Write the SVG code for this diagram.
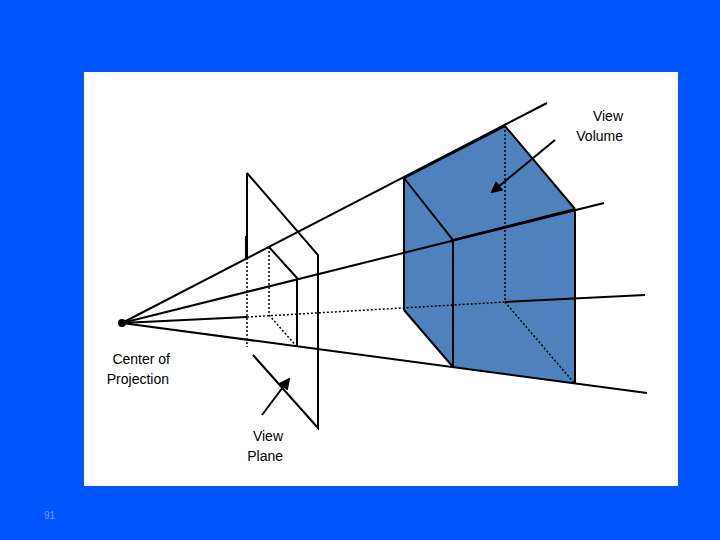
<svg xmlns="http://www.w3.org/2000/svg" width="720" height="540" viewBox="0 0 720 540">
<style>
.s{stroke:#000;stroke-width:2;fill:none}
.d{stroke:#000;stroke-width:1.5;fill:none;stroke-dasharray:2 2}
.t{font-family:"Liberation Sans",Arial,sans-serif;font-size:14px;fill:#000}
</style>
<defs><marker id="a" markerWidth="6" markerHeight="6" refX="5" refY="3" orient="auto"><path d="M0,0L6,3L0,6z" fill="#000"/></marker></defs>
<rect width="720" height="540" fill="#0055ff"/>
<rect x="84" y="72" width="594" height="414" fill="#fff"/>
<g id="viewVolume">
<polygon points="404,178 505,126 575,209 575,384 453,367 404,310" fill="#4f81bd"/>
<path class="s" d="M404,178L505,126L575,209M404,178L453,240L575,209M404,178V310M453,240V367M575,209V384M404,310L453,367"/>
<path class="d" d="M505,126V302L575,384"/>
</g>
<g id="viewPlane">
<path class="s" d="M247,173L318,255V428L253,355M247,173V258M246,236V258"/>
<path class="d" d="M247,258V347"/>
<path class="s" d="M269,247L297,278V347"/>
<path class="d" d="M269,247V315L297,347"/>
</g>
<g id="connectors">
<path class="s" d="M122,323L547,103"/>
<path class="s" d="M122,323L604,203"/>
<path class="s" d="M122,323L247,317"/>
<path class="d" d="M247,317L505,302"/>
<path class="s" d="M505,302L645,295"/>
<path class="s" d="M122,323L647,393"/>
<path class="s" stroke-width="1.5" d="M555,140L492,192" marker-end="url(#a)"/>
<path class="s" stroke-width="1.5" d="M262,415L289,379" marker-end="url(#a)"/>
</g>
<g id="cop"><circle cx="122" cy="323" r="4" fill="#000"/></g>
<text class="t" x="623" y="121" text-anchor="end">View</text>
<text class="t" x="623" y="141" text-anchor="end">Volume</text>
<text class="t" x="170" y="364" text-anchor="end">Center of</text>
<text class="t" x="169" y="384" text-anchor="end">Projection</text>
<text class="t" x="283" y="441" text-anchor="end">View</text>
<text class="t" x="283" y="461" text-anchor="end">Plane</text>
<text x="44" y="519" font-family="Liberation Sans,Arial,sans-serif" font-size="10" fill="#7f9fdf">91</text>
</svg>
